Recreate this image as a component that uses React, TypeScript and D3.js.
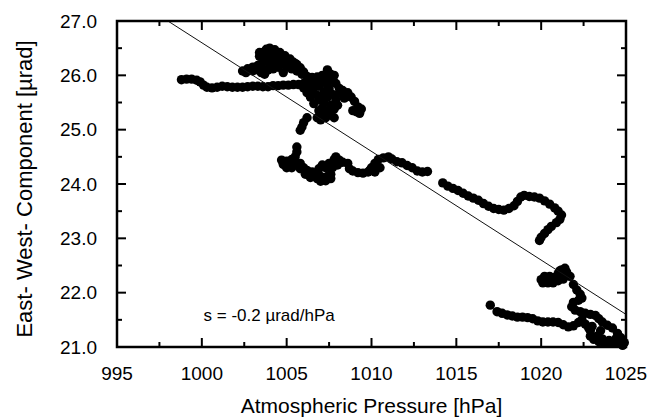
import React from "react";
import * as d3 from "d3";

// Atmospheric pressure [hPa] vs East-West tilt component [µrad]
const segWestTrack: [number, number][] = [
  [998.8, 25.92], [999.1, 25.93], [999.4, 25.93], [999.7, 25.91], [999.9, 25.88],
  [1000.1, 25.82], [1000.3, 25.78], [1000.6, 25.77], [1000.9, 25.78], [1001.2, 25.80],
  [1001.5, 25.79], [1001.8, 25.78], [1002.1, 25.78], [1002.4, 25.78], [1002.7, 25.79],
  [1003.0, 25.80], [1003.3, 25.80], [1003.6, 25.79], [1003.9, 25.79], [1004.2, 25.81],
  [1004.5, 25.81], [1004.8, 25.82], [1005.1, 25.82], [1005.4, 25.83], [1005.7, 25.83],
  [1006.0, 25.85], [1006.3, 25.86], [1006.6, 25.87], [1006.9, 25.88], [1007.2, 25.90],
  [1007.5, 25.92],
];

const segUpperBlob: [number, number][] = [
  [1002.4, 26.08], [1002.7, 26.12], [1003.0, 26.15], [1003.3, 26.18], [1003.5, 26.05],
  [1003.7, 26.02], [1003.9, 26.10], [1004.2, 26.12], [1004.5, 26.15], [1004.8, 26.22],
  [1005.1, 26.26], [1005.4, 26.24], [1005.6, 26.20], [1003.6, 26.42], [1003.8, 26.48],
  [1004.0, 26.50], [1004.3, 26.47], [1004.6, 26.42], [1004.9, 26.36], [1005.2, 26.30],
  [1005.5, 26.22], [1005.8, 26.14], [1006.0, 26.06], [1006.2, 25.98], [1006.5, 25.96],
  [1006.8, 25.97], [1007.1, 26.00], [1007.4, 26.05], [1007.6, 26.02], [1003.8, 26.38],
  [1004.2, 26.40], [1004.5, 26.33], [1003.6, 26.25], [1002.6, 26.05], [1003.0, 26.08],
  [1003.3, 26.10], [1003.6, 26.12], [1004.0, 26.20], [1004.3, 26.25], [1004.6, 26.28],
  [1004.0, 26.30], [1003.7, 26.32], [1003.4, 26.35], [1003.4, 26.42], [1005.0, 26.15],
  [1005.3, 26.12], [1005.6, 26.08], [1005.9, 26.02], [1004.8, 26.05], [1007.4, 26.10],
  [1007.8, 26.00],
];

const segCluster: [number, number][] = [
  [1007.6, 25.92], [1007.9, 25.85], [1008.1, 25.76], [1008.3, 25.72], [1008.6, 25.68],
  [1008.8, 25.60], [1009.0, 25.52], [1009.2, 25.42], [1009.1, 25.33], [1008.1, 25.67],
  [1007.9, 25.55], [1007.6, 25.45], [1007.3, 25.35], [1007.0, 25.28], [1006.8, 25.22],
  [1007.1, 25.40], [1006.9, 25.55], [1006.7, 25.65], [1006.5, 25.72], [1006.3, 25.78],
  [1006.0, 25.77], [1007.2, 25.70], [1007.4, 25.60], [1007.5, 25.75], [1006.6, 25.48],
  [1006.9, 25.35], [1007.6, 25.28], [1007.8, 25.38], [1006.6, 25.92], [1006.9, 25.80],
  [1006.2, 25.22], [1006.0, 25.13], [1005.9, 25.05], [1005.8, 24.99], [1006.4, 25.60],
  [1006.2, 25.68], [1006.6, 25.82], [1007.0, 25.62], [1007.2, 25.50], [1007.4, 25.82],
  [1007.7, 25.65], [1008.0, 25.45], [1007.8, 25.22], [1007.3, 25.22], [1007.0, 25.18],
  [1008.4, 25.58], [1009.4, 25.38], [1009.3, 25.30], [1008.9, 25.35],
];

const segMiddleLeft: [number, number][] = [
  [1005.6, 24.68], [1005.6, 24.59], [1005.5, 24.50], [1005.3, 24.45], [1004.7, 24.44],
  [1004.8, 24.36], [1005.0, 24.30], [1005.3, 24.30], [1005.6, 24.36], [1005.8, 24.38],
  [1006.0, 24.30], [1006.2, 24.25], [1006.5, 24.22], [1006.8, 24.20], [1007.0, 24.14],
  [1007.2, 24.10], [1007.4, 24.14], [1007.6, 24.18], [1007.3, 24.30], [1007.1, 24.35],
  [1007.5, 24.38], [1007.8, 24.45], [1007.9, 24.50], [1008.1, 24.44], [1008.3, 24.40],
  [1008.6, 24.38], [1008.7, 24.28], [1008.9, 24.24], [1009.2, 24.21], [1009.5, 24.20],
  [1009.8, 24.22], [1010.0, 24.30], [1010.2, 24.38], [1010.4, 24.45], [1010.7, 24.48],
  [1011.0, 24.50], [1011.2, 24.46], [1011.5, 24.41], [1011.8, 24.39], [1012.1, 24.34],
  [1012.4, 24.30], [1012.7, 24.24], [1013.0, 24.22], [1013.3, 24.23], [1010.5, 24.30],
  [1010.2, 24.22], [1009.9, 24.25], [1006.6, 24.15], [1007.0, 24.05], [1007.3, 24.06],
  [1007.6, 24.10], [1005.2, 24.38], [1005.8, 24.28], [1006.1, 24.18], [1006.4, 24.12],
  [1006.8, 24.10], [1006.9, 24.28], [1007.7, 24.30], [1008.0, 24.35], [1005.0, 24.42],
];

const segLongCurve: [number, number][] = [
  [1014.2, 24.02], [1014.5, 23.96], [1014.8, 23.92], [1015.1, 23.88], [1015.4, 23.83],
  [1015.7, 23.78], [1016.0, 23.74], [1016.3, 23.70], [1016.6, 23.64], [1016.9, 23.59],
  [1017.2, 23.55], [1017.5, 23.53], [1017.8, 23.52], [1018.1, 23.55], [1018.4, 23.60],
  [1018.6, 23.68], [1018.8, 23.76], [1019.0, 23.79], [1019.3, 23.77], [1019.6, 23.76],
  [1019.9, 23.74], [1020.2, 23.69], [1020.5, 23.63], [1020.8, 23.56], [1021.0, 23.50],
  [1021.2, 23.43], [1021.1, 23.35], [1020.9, 23.29], [1020.6, 23.22], [1020.4, 23.16],
  [1020.2, 23.09], [1020.0, 23.02], [1019.9, 22.96],
];

const segLowerRight: [number, number][] = [
  [1020.0, 22.24], [1020.2, 22.30], [1020.5, 22.30], [1020.8, 22.28], [1021.0, 22.35],
  [1021.2, 22.42], [1021.5, 22.38], [1021.7, 22.30], [1021.3, 22.25], [1021.0, 22.22],
  [1020.7, 22.18], [1020.4, 22.18], [1020.1, 22.18], [1021.9, 22.15], [1022.1, 22.05],
  [1022.3, 21.97], [1022.4, 21.90], [1022.2, 21.86], [1021.9, 21.82], [1021.8, 21.74],
  [1022.0, 21.68], [1022.3, 21.65], [1022.6, 21.62], [1022.9, 21.60], [1023.2, 21.58],
  [1023.4, 21.52], [1023.6, 21.46], [1023.9, 21.40], [1024.2, 21.35], [1024.5, 21.25],
  [1024.7, 21.17], [1024.6, 21.10], [1024.3, 21.07], [1024.0, 21.07], [1023.7, 21.08],
  [1023.4, 21.10], [1023.1, 21.14], [1022.9, 21.20], [1022.9, 21.30], [1023.0, 21.38],
  [1024.9, 21.08], [1024.8, 21.03], [1020.4, 22.24], [1020.7, 22.24], [1021.0, 22.28],
  [1021.3, 22.32], [1020.2, 22.22], [1021.4, 22.45], [1021.1, 22.40], [1023.3, 21.20],
  [1023.6, 21.15], [1024.0, 21.12], [1024.4, 21.15], [1023.5, 21.30],
];

const segLowerTail: [number, number][] = [
  [1017.0, 21.77], [1017.4, 21.65], [1017.7, 21.62], [1018.0, 21.59], [1018.3, 21.57],
  [1018.6, 21.55], [1018.9, 21.55], [1019.2, 21.54], [1019.5, 21.52], [1019.8, 21.48],
  [1020.1, 21.46], [1020.4, 21.46], [1020.7, 21.46], [1021.0, 21.45], [1021.3, 21.41],
  [1021.6, 21.37], [1021.9, 21.39], [1022.2, 21.45], [1022.4, 21.50], [1022.6, 21.42],
  [1022.8, 21.35],
];

const fitLine: [number, number][] = [
  [998.0, 27.0],
  [1025.0, 21.6],
];

const xMajorTicks = [995, 1000, 1005, 1010, 1015, 1020, 1025];
const xMinorTicks = [997.5, 1002.5, 1007.5, 1012.5, 1017.5, 1022.5];
const yMajorTicks = [21, 22, 23, 24, 25, 26, 27];
const yMinorTicks = [21.5, 22.5, 23.5, 24.5, 25.5, 26.5];

const xTitle = "Atmospheric Pressure [hPa]";
const yTitle = "East- West- Component [µrad]";
const annotation = "s = -0.2 µrad/hPa";

const W = 663;
const H = 417;
const left = 117;
const right = 626;
const top = 21;
const bottom = 347;
const FONT = "'Liberation Sans', Arial, Helvetica, sans-serif";

export default function App() {
  const x = d3.scaleLinear().domain([995, 1025]).range([left, right]);
  const y = d3.scaleLinear().domain([21, 27]).range([bottom, top]);
  const points = [
    ...segWestTrack,
    ...segUpperBlob,
    ...segCluster,
    ...segMiddleLeft,
    ...segLongCurve,
    ...segLowerRight,
    ...segLowerTail,
  ];
  const lineGen = d3
    .line<[number, number]>()
    .x((d) => x(d[0]))
    .y((d) => y(d[1]));

  const major = 9;
  const minor = 5;

  return (
    <svg
      width={W}
      height={H}
      style={{ position: "absolute", left: 0, top: 0, background: "#fff" }}
      fontFamily={FONT}
    >
      <rect x={0} y={0} width={W} height={H} fill="#fff" />
      <g>
        {points.map((d, i) => (
          <circle key={i} cx={x(d[0])} cy={y(d[1])} r={4.7} fill="#000" />
        ))}
      </g>
      <path d={lineGen(fitLine) || ""} stroke="#111" strokeWidth={1} fill="none" />

      <g stroke="#000" strokeWidth={2}>
        {xMajorTicks.map((t) => (
          <g key={"xM" + t}>
            <line x1={x(t)} x2={x(t)} y1={bottom} y2={bottom - major} />
            <line x1={x(t)} x2={x(t)} y1={top} y2={top + major} />
          </g>
        ))}
        {xMinorTicks.map((t) => (
          <g key={"xm" + t}>
            <line x1={x(t)} x2={x(t)} y1={bottom} y2={bottom - minor} />
            <line x1={x(t)} x2={x(t)} y1={top} y2={top + minor} />
          </g>
        ))}
        {yMajorTicks.map((t) => (
          <g key={"yM" + t}>
            <line x1={left} x2={left + major} y1={y(t)} y2={y(t)} />
            <line x1={right} x2={right - major} y1={y(t)} y2={y(t)} />
          </g>
        ))}
        {yMinorTicks.map((t) => (
          <g key={"ym" + t}>
            <line x1={left} x2={left + minor} y1={y(t)} y2={y(t)} />
            <line x1={right} x2={right - minor} y1={y(t)} y2={y(t)} />
          </g>
        ))}
      </g>
      <rect
        x={left}
        y={top}
        width={right - left}
        height={bottom - top}
        fill="none"
        stroke="#000"
        strokeWidth={2.5}
      />

      <g fontSize={19} fill="#000">
        {xMajorTicks.map((t) => (
          <text key={"xl" + t} x={x(t)} y={380} textAnchor="middle">
            {t}
          </text>
        ))}
        {yMajorTicks.map((t) => (
          <text key={"yl" + t} x={97} y={y(t)} dy="0.35em" textAnchor="end">
            {t.toFixed(1)}
          </text>
        ))}
      </g>

      <text x={(left + right) / 2} y={413} textAnchor="middle" fontSize={21} fill="#000">
        {xTitle}
      </text>
      <text
        transform={`translate(32, ${(top + bottom) / 2 + 5}) rotate(-90)`}
        textAnchor="middle"
        fontSize={22}
        fill="#000"
      >
        {yTitle}
      </text>
      <text x={x(1000.1)} y={y(21.48)} fontSize={17} fill="#000">
        {annotation}
      </text>
    </svg>
  );
}
